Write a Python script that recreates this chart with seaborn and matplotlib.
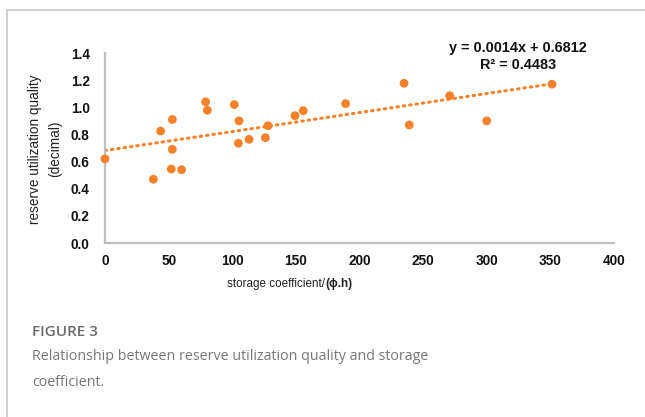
import numpy as np
import pandas as pd
import matplotlib
matplotlib.use("Agg")
import matplotlib.pyplot as plt
import seaborn as sns
from matplotlib.lines import Line2D

# Observed samples
storage_coef = [0, 38, 43.7, 52.9, 52.9, 52.1, 60.2, 79.1, 80.4, 101.6, 105.3, 104.8,
                113.2, 126, 128.1, 149.3, 155.8, 189.1, 235, 239.1, 270.9, 300, 351.3]
utilization = [0.62, 0.47, 0.825, 0.91, 0.69, 0.545, 0.54, 1.04, 0.978, 1.02, 0.90, 0.735,
               0.764, 0.776, 0.864, 0.938, 0.975, 1.027, 1.177, 0.87, 1.085, 0.90, 1.17]

# Linear trend
slope = 0.0014
intercept = 0.6812
r_squared = 0.4483
trend_x = [0, 351.3]

x_ticks = [0, 50, 100, 150, 200, 250, 300, 350, 400]
y_ticks = [0.0, 0.2, 0.4, 0.6, 0.8, 1.0, 1.2, 1.4]

orange = "#F5822A"
grey_axis = "#BFBFBF"

sns.set_theme(style="white")
plt.rcParams["font.family"] = ["Liberation Sans", "DejaVu Sans"]

W, H = 645, 417
fig = plt.figure(figsize=(W / 100, H / 100), dpi=100)
ax = fig.add_axes([105 / W, 1 - 243 / H, (614 - 105) / W, (243 - 53) / H])

df = pd.DataFrame({"x": storage_coef, "y": utilization})
trend = pd.DataFrame({"x": trend_x, "y": [slope * v + intercept for v in trend_x]})

sns.lineplot(data=trend, x="x", y="y", ax=ax, color=orange, linewidth=2.2,
             linestyle=(0, (0.5, 1.6)), dash_capstyle="round", zorder=2)
sns.scatterplot(data=df, x="x", y="y", ax=ax, color=orange, s=40,
                edgecolor="none", zorder=3, clip_on=False)

ax.set_xlim(0, 400)
ax.set_ylim(0, 1.4)
ax.set_xticks(x_ticks)
ax.set_yticks(y_ticks)
ax.set_xticklabels([str(v) for v in x_ticks], fontweight="bold", fontsize=9.8)
ax.set_yticklabels([f"{v:.1f}" for v in y_ticks], fontweight="bold", fontsize=9.8)
ax.tick_params(axis="both", length=0, colors="#111111")
ax.tick_params(axis="x", pad=8)
ax.tick_params(axis="y", pad=11)
ax.set_xlabel("")
ax.set_ylabel("")
for side in ["top", "right"]:
    ax.spines[side].set_visible(False)
for side in ["left", "bottom"]:
    ax.spines[side].set_color(grey_axis)
    ax.spines[side].set_linewidth(1.6)
ax.grid(False)

# Axis titles
fig.text(325 / W, 1 - 284 / H, r"storage coefficient/", ha="right", va="center",
         fontsize=8.4, color="#222222")
fig.text(325 / W, 1 - 284 / H, "(ϕ.h)", ha="left", va="center",
         fontsize=8.4, color="#222222", fontweight="bold")
fig.text(35 / W, 1 - 149 / H, "reserve utilization quality", rotation=90,
         ha="center", va="center", fontsize=9.8, color="#222222")
fig.text(55 / W, 1 - 149 / H, "(decimal)", rotation=90,
         ha="center", va="center", fontsize=9.8, color="#222222")

# Trend equation
fig.text(518 / W, 1 - 48 / H, f"y = {slope:.4f}x + {intercept:.4f}", ha="center",
         va="center", fontsize=10.4, fontweight="bold", color="#111111")
fig.text(518 / W, 1 - 65 / H, f"R² = {r_squared:.4f}", ha="center",
         va="center", fontsize=10.4, fontweight="bold", color="#111111")

# Caption
fig.text(32 / W, 1 - 332 / H, "FIGURE 3", ha="left", va="center", fontsize=11,
         color="#6b6b6b", family=["Open Sans", "DejaVu Sans"], fontweight="semibold")
fig.text(32 / W, 1 - 357 / H, "Relationship between reserve utilization quality and storage",
         ha="left", va="center", fontsize=10.25, color="#777777",
         family=["Open Sans", "DejaVu Sans"])
fig.text(32 / W, 1 - 382 / H, "coefficient.", ha="left", va="center", fontsize=10.25,
         color="#777777", family=["Open Sans", "DejaVu Sans"])

# Frame lines along left and top
fig.add_artist(Line2D([6.5 / W, 6.5 / W], [0, 1 - 10 / H], transform=fig.transFigure,
                      color="#C8C8C8", linewidth=1.2))
fig.add_artist(Line2D([6.5 / W, 1], [1 - 10 / H, 1 - 10 / H], transform=fig.transFigure,
                      color="#C8C8C8", linewidth=1.2))

fig.savefig("out.png", dpi=100)
